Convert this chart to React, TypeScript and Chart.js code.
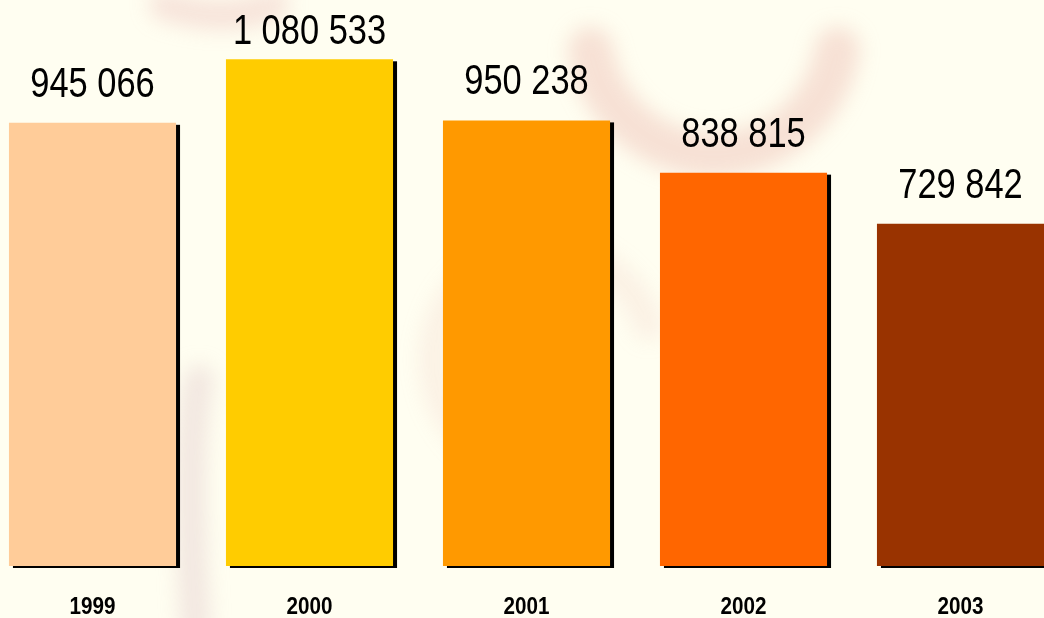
import React, { useEffect, useRef } from "react";
import { Chart, registerables } from "chart.js";

Chart.register(...registerables);

const years: string[] = ["1999", "2000", "2001", "2002", "2003"];
const values: number[] = [945066, 1080533, 950238, 838815, 729842];
const barColors: string[] = ["#FFCC99", "#FFCC00", "#FF9900", "#FF6600", "#993300"];

const fmt = (v: number) => v.toLocaleString("en-US").replace(/,/g, " ");
const FONT = '"Liberation Sans", Arial, sans-serif';

const bgPlugin = {
  id: "bgPlugin",
  beforeDraw(chart: any) {
    const ctx = chart.ctx;
    ctx.save();
    ctx.fillStyle = "#FFFEF1";
    ctx.fillRect(0, 0, chart.width, chart.height);
    ctx.filter = "blur(10px)";
    ctx.lineCap = "round";
    // faint decorative swirls imitating the background picture
    ctx.strokeStyle = "rgba(228,160,150,0.30)";
    ctx.lineWidth = 45;
    ctx.beginPath();
    ctx.arc(730, 30, 125, 0.05 * Math.PI, 0.95 * Math.PI);
    ctx.stroke();
    ctx.lineWidth = 30;
    ctx.strokeStyle = "rgba(228,160,160,0.28)";
    ctx.beginPath();
    ctx.moveTo(180, 5);
    ctx.quadraticCurveTo(240, 25, 290, 5);
    ctx.stroke();
    ctx.strokeStyle = "rgba(215,185,190,0.32)";
    ctx.lineWidth = 30;
    ctx.beginPath();
    ctx.moveTo(212, 630);
    ctx.quadraticCurveTo(200, 450, 215, 380);
    ctx.stroke();
    ctx.strokeStyle = "rgba(228,170,160,0.15)";
    ctx.lineWidth = 30;
    ctx.beginPath();
    ctx.arc(560, 360, 110, 0.7 * Math.PI, 1.9 * Math.PI);
    ctx.stroke();
    ctx.restore();
  },
};

const shadowPlugin = {
  id: "shadowPlugin",
  beforeDatasetsDraw(chart: any) {
    const ctx = chart.ctx;
    const meta = chart.getDatasetMeta(0);
    ctx.save();
    ctx.fillStyle = "#000000";
    meta.data.forEach((bar: any) => {
      const p = bar.getProps(["x", "y", "base", "width"], true);
      ctx.fillRect(p.x - p.width / 2 + 4, p.y + 2, p.width, p.base - p.y);
    });
    ctx.restore();
  },
};

const drawNarrow = (ctx: any, text: string, x: number, y: number, sx: number) => {
  ctx.save();
  ctx.translate(x, y);
  ctx.scale(sx, 1);
  ctx.fillText(text, 0, 0);
  ctx.restore();
};

const labelPlugin = {
  id: "labelPlugin",
  afterDatasetsDraw(chart: any) {
    const ctx = chart.ctx;
    const meta = chart.getDatasetMeta(0);
    const xs = chart.scales.x;
    ctx.save();
    ctx.fillStyle = "#000000";
    ctx.textAlign = "center";
    ctx.textBaseline = "alphabetic";
    ctx.font = "42px " + FONT;
    meta.data.forEach((bar: any, i: number) => {
      const p = bar.getProps(["x", "y"], true);
      const y = Math.max(p.y - 26, 44);
      drawNarrow(ctx, fmt(values[i]), p.x, y, 0.82);
    });
    ctx.font = "bold 24px " + FONT;
    years.forEach((yr, i) => {
      drawNarrow(ctx, yr, xs.getPixelForTick(i), 614, 0.86);
    });
    ctx.restore();
  },
};

export default function App() {
  const ref = useRef<HTMLCanvasElement | null>(null);
  useEffect(() => {
    if (!ref.current) return;
    const chart = new Chart(ref.current, {
      type: "bar",
      data: {
        labels: years,
        datasets: [
          {
            data: values,
            backgroundColor: barColors,
            borderWidth: 0,
            categoryPercentage: 1,
            barPercentage: 0.77,
          },
        ],
      },
      options: {
        animation: false,
        responsive: false,
        layout: { padding: { left: 0, right: 0, top: 0, bottom: 52 } },
        plugins: { legend: { display: false }, tooltip: { enabled: false } },
        scales: {
          x: {
            grid: { display: false, drawTicks: false },
            border: { display: false },
            ticks: { display: false },
          },
          y: {
            display: false,
            min: 0,
            max: 1207000,
          },
        },
      },
      plugins: [bgPlugin, shadowPlugin, labelPlugin],
    });
    return () => chart.destroy();
  }, []);
  return (
    <div style={{ position: "fixed", left: 0, top: 0, width: 1044, height: 618, overflow: "hidden", background: "#FFFEF1" }}>
      <canvas ref={ref} width={1085} height={618} style={{ position: "absolute", left: -16, top: 0, width: 1085, height: 618 }} />
    </div>
  );
}
